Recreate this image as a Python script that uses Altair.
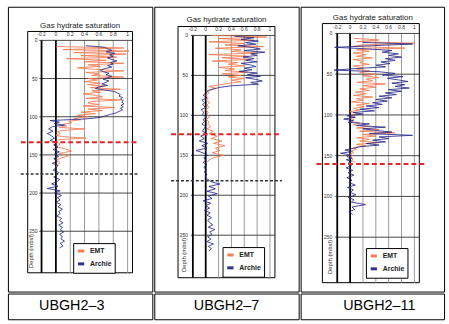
import altair as alt
import pandas as pd

FONT = "Liberation Sans"
ORANGE = "#f3784e"
BLUE = "#27288a"
RED = "#e3262b"

WELLS = ["UBGH2\u20133", "UBGH2\u20137", "UBGH2\u201311"]
SERIES = ["EMT", "Archie"]
X_TICKS = [-0.2, 0, 0.2, 0.4, 0.6, 0.8, 1.0]
X_TICK_LABELS = ["-0.2", "0", "0.2", "0.4", "0.6", "0.8", "1"]
Y_TICKS = [0, 50, 100, 150, 200, 250]
GRID_X = [0.2, 0.4, 0.6, 0.8, 1.0]
GRID_Y = [50, 100, 150, 200, 250]
RED_DEPTH = [133.4, 123.8, 160.2]
BLACK_DEPTH = [174.9, 181.9, None]

# ---------------- UBGH2-3 ----------------
P1_ARCHIE_DEPTH = [7, 9, 11, 13, 15, 17, 19, 21, 23, 25, 27, 29, 31, 33, 35, 37, 39, 41, 43, 45,
                   47, 49, 51, 53, 55, 57, 59, 61, 63, 65, 67, 69, 71, 73, 75, 77, 79, 81, 83, 85,
                   87, 89, 91, 93, 95, 97, 99, 101, 103, 105, 107, 109, 111,
                   113, 116, 119, 122, 125, 128, 131, 134, 137, 140, 143, 146, 149, 152, 155, 158,
                   161, 164, 167, 170, 173, 176, 179, 182, 185, 188, 191, 194, 197, 200, 203, 206,
                   209, 212, 215, 218, 221, 224, 227, 230, 233, 236, 239, 242, 245, 248, 251, 254,
                   257, 260, 263, 266, 269, 272]
P1_ARCHIE_SAT = [0.42, 0.68, 0.72, 0.78, 0.70, 0.82, 0.75, 0.80, 0.72, 0.78, 0.85, 0.76, 0.80, 0.72,
                 0.78, 0.68, 0.62, 0.66, 0.74, 0.70, 0.78, 0.72, 0.66, 0.74, 0.70, 0.64, 0.72, 0.60,
                 0.55, 0.68, 0.82, 0.86, 0.90, 0.88, 0.93, 0.90, 0.94, 0.92, 0.95, 0.91, 0.94, 0.90,
                 0.93, 0.88, 0.84, 0.76, 0.68, 0.62, 0.40, -0.08, 0.05, -0.02, 0.12,
                 -0.05, -0.10, -0.04, -0.12, -0.06, -0.02, -0.08, 0.02, -0.03, 0.03, -0.04, 0.05,
                 -0.02, 0.04, -0.03, 0.02, -0.05, 0.03, 0.00, -0.04, 0.04, 0.01, -0.03, 0.05, 0.02,
                 -0.06, 0.03, -0.12, 0.06, -0.02, 0.08, 0.02, 0.06, 0.00, 0.07, 0.03, 0.09, 0.04,
                 0.06, 0.01, 0.08, 0.05, 0.10, 0.04, 0.09, 0.06, 0.11, 0.05, 0.09, 0.07, 0.12, 0.06,
                 0.10, 0.05]
P1_EMT_DEPTH = [8, 10, 12, 14, 16, 18, 20, 22, 24, 26, 28, 30, 32, 34, 36, 38, 40, 42, 44, 46,
                48, 50, 52, 54, 56, 58, 60, 62, 64, 66, 68, 70, 72, 74, 76, 78, 80, 82, 84, 86,
                88, 90, 92, 94, 96, 98, 100, 102, 104, 106, 108, 110, 112, 114, 116, 118, 120,
                122, 124, 126, 128, 130, 133, 136, 139, 142, 145, 148, 151, 154, 157, 160, 163, 166]
P1_EMT_SAT = [0.00, 0.95, 0.10, 1.02, 0.25, 0.98, 0.35, 0.85, 0.15, 0.70, 0.40, 0.95, 0.45, 0.62,
              0.30, 0.55, 0.95, 0.42, 0.60, 0.50, 0.95, 0.45, 0.58, 0.40, 0.62, 0.44, 0.68, 0.48,
              0.90, 0.50, 0.62, 0.38, 0.55, 0.65, 0.42, 0.90, 0.50, 0.45, 0.60, 0.38, 0.82, 0.45,
              0.65, 0.35, 0.55, 0.30, 0.45, 0.25, 0.35, 0.18, 0.22, 0.10, 0.15, 0.05, 0.40, 0.08,
              0.02, 0.06, 0.00, 0.08, 0.42, 0.04, 0.02, 0.06, 0.00, 0.12, 0.22, 0.05, 0.18, 0.08,
              0.00, 0.06, 0.02, 0.00]

# ---------------- UBGH2-7 ----------------
P2_ARCHIE_DEPTH = [1, 3, 5, 7, 9, 11, 13, 15, 17, 19, 21, 23, 25, 27, 29, 31, 33, 35, 37, 39,
                   41, 43, 45, 47, 49, 51, 53, 55, 57, 59, 61, 63, 65, 67, 69,
                   72, 75, 78, 81, 84, 87, 90, 93, 96, 99, 102, 105, 108, 111, 114, 117, 120,
                   123, 126, 129, 132, 135, 138, 141, 144, 147, 150, 153, 156, 159, 162, 165,
                   168, 171, 174, 177, 180, 183, 186, 189, 192, 195, 198, 201, 204, 207, 210,
                   213, 216, 219, 222, 225, 228, 231, 234, 237, 240, 243, 246, 249, 252, 255,
                   258, 261, 264, 267, 270]
P2_ARCHIE_SAT = [0.45, 0.75, 0.55, 0.82, 0.62, 0.78, 0.50, 0.72, 0.85, 0.60, 0.92, 0.70, 0.80,
                 0.58, 0.75, 0.62, 0.80, 0.55, 0.70, 0.78, 0.60, 0.72, 0.52, 0.80, 0.65, 0.85,
                 0.62, 0.78, 0.88, 0.70, 0.82, 0.40, 0.22, 0.12, 0.05,
                 0.00, -0.04, 0.02, -0.06, -0.02, -0.05, 0.00, -0.07, -0.03, -0.05, 0.01, -0.04,
                 -0.02, -0.06, 0.00, -0.03, -0.05, 0.02, -0.08, -0.02, -0.10, 0.03, -0.06, 0.02,
                 -0.15, -0.04, 0.03, -0.03, 0.00, -0.04, 0.02, -0.03, 0.01, -0.02, 0.02, -0.01,
                 0.03, 0.08, 0.22, 0.05, 0.15, 0.02, 0.18, 0.04, 0.10, -0.04, 0.08, 0.00, 0.06,
                 -0.02, 0.07, 0.02, 0.09, 0.03, 0.06, 0.11, 0.04, 0.14, 0.06, 0.10, 0.03, 0.08,
                 0.02, 0.12, 0.04, 0.09, 0.05]
P2_EMT_DEPTH = [0, 2, 4, 6, 8, 10, 12, 14, 16, 18, 20, 22, 24, 26, 28, 30, 32, 34, 36, 38, 40,
                42, 44, 46, 48, 50, 52, 54, 56, 58, 60, 62, 64, 66,
                69, 72, 75, 78, 81, 84, 87, 90, 93, 96, 99, 102, 105, 108, 111, 114, 117, 120,
                123, 126, 129, 132, 135, 138, 141, 144, 147, 150, 153, 156, 159]
P2_EMT_SAT = [0.10, 0.95, 0.20, 0.75, 0.05, 0.60, 0.30, 0.90, 0.15, 0.55, 0.40, 0.80, 0.05, 0.65,
              0.25, 0.70, 0.10, 0.50, 0.35, 0.60, 0.20, 0.45, 0.30, 0.65, 0.25, 0.55, 0.35, 0.60,
              0.40, 0.55, 0.35, 0.20, 0.05, 0.15,
              0.02, 0.05, 0.00, 0.04, 0.01, 0.06, 0.02, 0.05, 0.00, 0.04, 0.02, 0.06, 0.01, 0.05,
              0.03, 0.08, 0.02, 0.12, 0.05, 0.18, 0.08, 0.25, 0.12, 0.30, 0.15, 0.22, 0.10, 0.28,
              0.12, 0.05, 0.02]

# ---------------- UBGH2-11 ----------------
P3_ARCHIE_DEPTH = [11, 13, 15, 17, 19, 21, 23, 25, 27, 29, 31, 33, 35, 37, 39, 41, 43, 45, 47, 49,
                   51, 53, 55, 57, 59, 61, 63, 65, 67, 69, 71, 73, 75, 77, 79, 81, 83, 85, 87, 89,
                   91, 93, 95, 97, 99, 101, 103, 105, 107, 109, 111, 113, 115, 117, 119, 121, 123,
                   125, 127, 129, 131, 133, 135, 137, 139, 141, 143, 145, 147, 149, 151, 153, 155,
                   157, 159, 162, 165, 168, 171, 174, 177, 180, 183, 186, 189, 192, 195, 198, 201,
                   204, 207, 210, 213, 216, 219, 222]
P3_ARCHIE_SAT = [0.20, 0.97, 0.35, -0.24, 0.30, 0.65, 0.50, 0.75, 0.60, 0.80, 0.55, 0.70, 0.48,
                 0.62, 0.40, 0.55, 0.10, -0.25, 0.45, 0.70, 0.50, 0.82, 0.58, 0.75, 0.90, 0.65,
                 0.85, 0.70, 0.92, 0.60, 0.80, 0.55, 0.72, 0.45, 0.65, 0.40, 0.58, 0.35, 0.50,
                 0.25, 0.45, 0.15, 0.38, 0.05, 0.20, -0.05, 0.08, -0.10, 0.05, -0.03, 0.30, 0.10,
                 0.55, 0.20, 0.40, 0.65, 0.30, 0.97, 0.45, 0.60, 0.35, 0.55, 0.25, 0.45, 0.15,
                 0.05, -0.08, 0.02, -0.15, 0.00, -0.05, 0.03, -0.06, 0.02, -0.03,
                 0.02, -0.06, 0.04, -0.03, 0.06, -0.05, 0.03, -0.02, 0.08, -0.04, 0.05, 0.00,
                 0.09, -0.03, 0.06, 0.02, 0.24, 0.03, 0.07, -0.02, 0.04]
P3_EMT_DEPTH = [6, 8, 10, 12, 14, 16, 18, 20, 22, 24, 26, 28, 30, 32, 34, 36, 38, 40, 42, 44, 46,
                48, 50, 52, 54, 56, 58, 60, 62, 64, 66, 68, 70, 72, 74, 76, 78, 80, 82, 84, 86,
                88, 90, 92, 94, 96, 98, 100, 102, 104, 106, 108, 110, 112, 114, 116, 118, 120,
                122, 124, 126, 128, 130, 132, 134, 136, 138, 140, 142, 144, 146, 148, 150, 152,
                154, 156, 158]
P3_EMT_SAT = [0.05, 0.45, 0.10, 1.00, 0.20, 0.05, 0.85, 0.10, 0.30, 0.05, 0.25, 0.10, 0.35, 0.05,
              0.20, 0.15, 0.30, 0.05, 0.20, 0.10, 0.30, 0.15, 0.40, 0.20, 0.45, 0.25, 0.35, 0.10,
              0.55, 0.20, 0.40, 0.15, 0.30, 0.08, 0.25, 0.05, 0.35, 0.10, 0.20, 0.02, 0.30, 0.10,
              0.22, 0.05, 0.15, 0.00, 0.12, 0.02, 0.08, 0.00, 0.06, 0.02, 0.15, 0.05, 0.30, 0.10,
              0.45, 0.15, 0.70, 0.20, 0.40, 0.10, 0.30, 0.15, 0.45, 0.10, 0.25, 0.05, 0.10, 0.02,
              0.06, 0.00, 0.04, 0.00, 0.05, 0.02, 0.08]

SERIES_DATA = [
    (P1_EMT_DEPTH, P1_EMT_SAT, P1_ARCHIE_DEPTH, P1_ARCHIE_SAT),
    (P2_EMT_DEPTH, P2_EMT_SAT, P2_ARCHIE_DEPTH, P2_ARCHIE_SAT),
    (P3_EMT_DEPTH, P3_EMT_SAT, P3_ARCHIE_DEPTH, P3_ARCHIE_SAT),
]

# layout of each table cell (pixels inside the cell)
H = 288
LAYOUT = [
    dict(W=146, x0=48.5, ppu=72.5, y0=34, ppm=0.772, frame=(20, 126, 25, 269), xlab=28, ylab=30,
         title=(73, 19), ytitle=(23, 247), legend=(66, 239), red=(13, 131), black=(13, 133), label=64.5),
    dict(W=146, x0=52, ppu=65, y0=29, ppm=0.808, frame=(24, 122, 20, 274), xlab=23, ylab=34,
         title=(73, 13), ytitle=(30, 251), legend=(69, 243), red=(17, 127), black=(17, 129), label=73),
    dict(W=145, x0=50, ppu=65, y0=27, ppm=0.824, frame=(22, 120, 17, 279), xlab=20, ylab=32,
         title=(73, 11), ytitle=(30, 253), legend=(66, 244), red=(16, 128), black=None, label=79.5),
]


def cell(i):
    L = LAYOUT[i]

    def dx(px):
        return (px - L["x0"]) / L["ppu"]

    def dy(py):
        return (py - L["y0"]) / L["ppm"]

    xs = alt.Scale(domain=[dx(0), dx(L["W"])], nice=False, zero=False)
    ys = alt.Scale(domain=[dy(0), dy(H)], nice=False, zero=False, reverse=True)

    def X(f):
        return alt.X(f, type="quantitative", scale=xs, axis=None)

    def Y(f):
        return alt.Y(f, type="quantitative", scale=ys, axis=None)

    fl, fr, ft, fb = L["frame"]
    xr = dx(fr)
    bottom = dy(fb)
    layers = []

    frame = alt.Chart(pd.DataFrame({"x": [dx(fl)], "x2": [xr], "y": [dy(ft)], "y2": [bottom]})) \
        .mark_rect(fill="white", stroke="black", strokeWidth=1) \
        .encode(x=X("x"), x2="x2", y=Y("y"), y2="y2")
    layers.append(frame)

    vgrid = alt.Chart(pd.DataFrame({"x": GRID_X, "y": [0] * len(GRID_X), "y2": [bottom] * len(GRID_X)})) \
        .mark_rule(color="#9a9a9a", strokeWidth=1) \
        .encode(x=X("x"), y=Y("y"), y2="y2")
    layers.append(vgrid)

    hgrid = alt.Chart(pd.DataFrame({"y": [0] + GRID_Y, "x": [-0.23] * (len(GRID_Y) + 1),
                                    "x2": [xr] * (len(GRID_Y) + 1)})) \
        .mark_rule(color="#303030", strokeWidth=0.9) \
        .encode(y=Y("y"), x=X("x"), x2="x2")
    layers.append(hgrid)

    thick = alt.Chart(pd.DataFrame({"x": [-0.2, 0.0], "y": [0, 0], "y2": [bottom, bottom]})) \
        .mark_rule(color="black", strokeWidth=1.8) \
        .encode(x=X("x"), y=Y("y"), y2="y2")
    layers.append(thick)

    xlabels = alt.Chart(pd.DataFrame({"x": X_TICKS, "t": X_TICK_LABELS, "y": [dy(L["xlab"])] * len(X_TICKS)})) \
        .mark_text(font=FONT, fontSize=5, color="#333333", baseline="middle") \
        .encode(x=X("x"), y=Y("y"), text="t:N")
    layers.append(xlabels)

    ylabels = alt.Chart(pd.DataFrame({"y": Y_TICKS, "t": [str(v) for v in Y_TICKS],
                                      "x": [dx(L["ylab"])] * len(Y_TICKS)})) \
        .mark_text(font=FONT, fontSize=5, color="#333333", align="right", baseline="middle") \
        .encode(x=X("x"), y=Y("y"), text="t:N")
    layers.append(ylabels)

    title = alt.Chart(pd.DataFrame({"x": [dx(L["title"][0])], "y": [dy(L["title"][1])],
                                    "t": ["Gas hydrate saturation"]})) \
        .mark_text(font=FONT, fontSize=8, color="#222222", baseline="middle") \
        .encode(x=X("x"), y=Y("y"), text="t:N")
    layers.append(title)

    ytitle = alt.Chart(pd.DataFrame({"x": [dx(L["ytitle"][0])], "y": [dy(L["ytitle"][1])],
                                     "t": ["Depth (mbsf)"]})) \
        .mark_text(font=FONT, fontSize=6, color="#333333", angle=270, baseline="middle") \
        .encode(x=X("x"), y=Y("y"), text="t:N")
    layers.append(ytitle)

    ed, es, ad, asat = SERIES_DATA[i]
    rows = [{"depth": d, "sat": s, "series": "EMT"} for d, s in zip(ed, es)]
    rows += [{"depth": d, "sat": s, "series": "Archie"} for d, s in zip(ad, asat)]
    lines = alt.Chart(pd.DataFrame(rows)).mark_line(strokeWidth=0.9, opacity=0.95).encode(
        x=X("sat"),
        y=Y("depth"),
        order="depth:Q",
        color=alt.Color("series:N",
                        scale=alt.Scale(domain=SERIES, range=[ORANGE, BLUE]),
                        legend=alt.Legend(orient="none", legendX=L["legend"][0], legendY=L["legend"][1],
                                          title=None, direction="vertical",
                                          strokeColor="black", fillColor="white", padding=3,
                                          cornerRadius=0, labelFont=FONT, labelFontSize=7,
                                          labelFontWeight="bold", labelColor="#222222",
                                          symbolType="stroke", symbolStrokeWidth=3, symbolSize=40,
                                          rowPadding=1, labelOffset=4)),
    )
    layers.append(lines)

    red = alt.Chart(pd.DataFrame({"y": [RED_DEPTH[i]], "x": [dx(L["red"][0])], "x2": [dx(L["red"][1])]})) \
        .mark_rule(color=RED, strokeWidth=2, strokeDash=[5, 3]) \
        .encode(y=Y("y"), x=X("x"), x2="x2")
    layers.append(red)

    if BLACK_DEPTH[i] is not None:
        blk = alt.Chart(pd.DataFrame({"y": [BLACK_DEPTH[i]], "x": [dx(L["black"][0])],
                                      "x2": [dx(L["black"][1])]})) \
            .mark_rule(color="#333333", strokeWidth=1.5, strokeDash=[3, 2]) \
            .encode(y=Y("y"), x=X("x"), x2="x2")
        layers.append(blk)

    top = alt.layer(*layers).properties(width=L["W"], height=H)
    lab = alt.Chart(pd.DataFrame({"label": [WELLS[i]]})).mark_text(
        font=FONT, fontSize=14.5, color="black", baseline="middle"
    ).encode(x=alt.value(L["label"]), y=alt.value(13), text="label:N").properties(width=L["W"], height=26)
    return alt.vconcat(top, lab, spacing=0).resolve_scale(color="independent").resolve_legend(color="independent")


chart = alt.hconcat(*[cell(i) for i in range(3)], spacing=0) \
    .resolve_scale(color="independent").resolve_legend(color="independent") \
    .properties(padding={"left": 7, "top": 4, "right": 4, "bottom": 5}, background="white") \
    .configure_view(stroke="black", strokeWidth=1)

chart.save("out.html", embed_options={"renderer": "svg", "actions": False})
